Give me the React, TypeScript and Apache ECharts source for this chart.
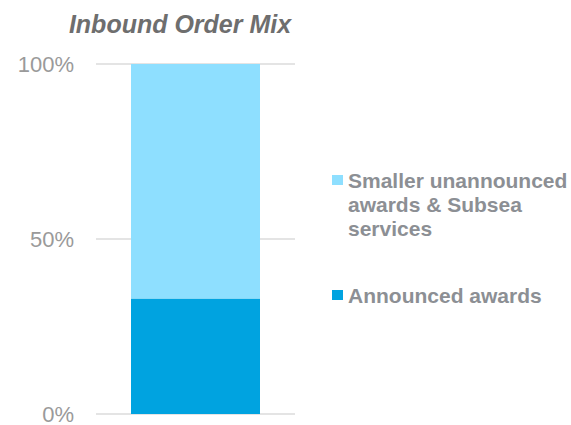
import React, { useEffect, useRef } from "react";
import * as echarts from "echarts";

const categories = ["Inbound"];
const seriesNames = ["Announced awards", "Smaller unannounced awards & Subsea services"];
const announced = [33];
const smaller = [67];
const yTicks = [0, 50, 100];

const COL_DARK = "#00A3E0";
const COL_LIGHT = "#8EDFFF";
const TEXT_GRAY = "#8C8F94";

export default function App() {
  const ref = useRef<HTMLDivElement>(null);
  useEffect(() => {
    document.body.style.margin = "0";
    const chart = echarts.init(ref.current!, null, { renderer: "svg" });
    const font = "Liberation Sans, Arial, sans-serif";
    chart.setOption({
      animation: false,
      title: {
        text: "Inbound Order Mix",
        left: 175,
        top: 6,
        textAlign: "center",
        textStyle: {
          fontFamily: font,
          fontSize: 25,
          fontWeight: "bold",
          fontStyle: "italic",
          color: "#6E6E6E",
        },
      },
      grid: { left: 96, right: 276, top: 64, bottom: 10, containLabel: false },
      xAxis: {
        type: "category",
        data: categories,
        axisLine: { show: false },
        axisTick: { show: false },
        axisLabel: { show: false },
      },
      yAxis: {
        type: "value",
        min: yTicks[0],
        max: yTicks[yTicks.length - 1],
        interval: 50,
        axisLine: { show: false },
        axisTick: { show: false },
        axisLabel: {
          formatter: (v: number) => v + "%",
          fontFamily: font,
          fontSize: 22,
          color: "#9A9A9A",
          margin: 22,
        },
        splitLine: { lineStyle: { color: "#E4E4E4", width: 2 } },
      },
      series: [
        {
          name: seriesNames[0],
          type: "bar",
          stack: "mix",
          data: announced,
          barWidth: 129,
          itemStyle: { color: COL_DARK },
        },
        {
          name: seriesNames[1],
          type: "bar",
          stack: "mix",
          data: smaller,
          barWidth: 129,
          itemStyle: { color: COL_LIGHT },
        },
      ],
      graphic: [
        { type: "rect", shape: { x: 332, y: 175, width: 11, height: 10 }, style: { fill: COL_LIGHT } },
        {
          type: "text",
          x: 348,
          y: 168,
          style: {
            text: "Smaller unannounced\nawards & Subsea\nservices",
            fontFamily: font,
            fontSize: 21,
            fontWeight: "bold",
            lineHeight: 24,
            fill: TEXT_GRAY,
          },
        },
        { type: "rect", shape: { x: 332, y: 290, width: 11, height: 10 }, style: { fill: COL_DARK } },
        {
          type: "text",
          x: 348,
          y: 283,
          style: {
            text: "Announced awards",
            fontFamily: font,
            fontSize: 21,
            fontWeight: "bold",
            lineHeight: 24,
            fill: TEXT_GRAY,
          },
        },
      ],
    });
    return () => chart.dispose();
  }, []);
  return <div ref={ref} style={{ width: 571, height: 425 }} />;
}
